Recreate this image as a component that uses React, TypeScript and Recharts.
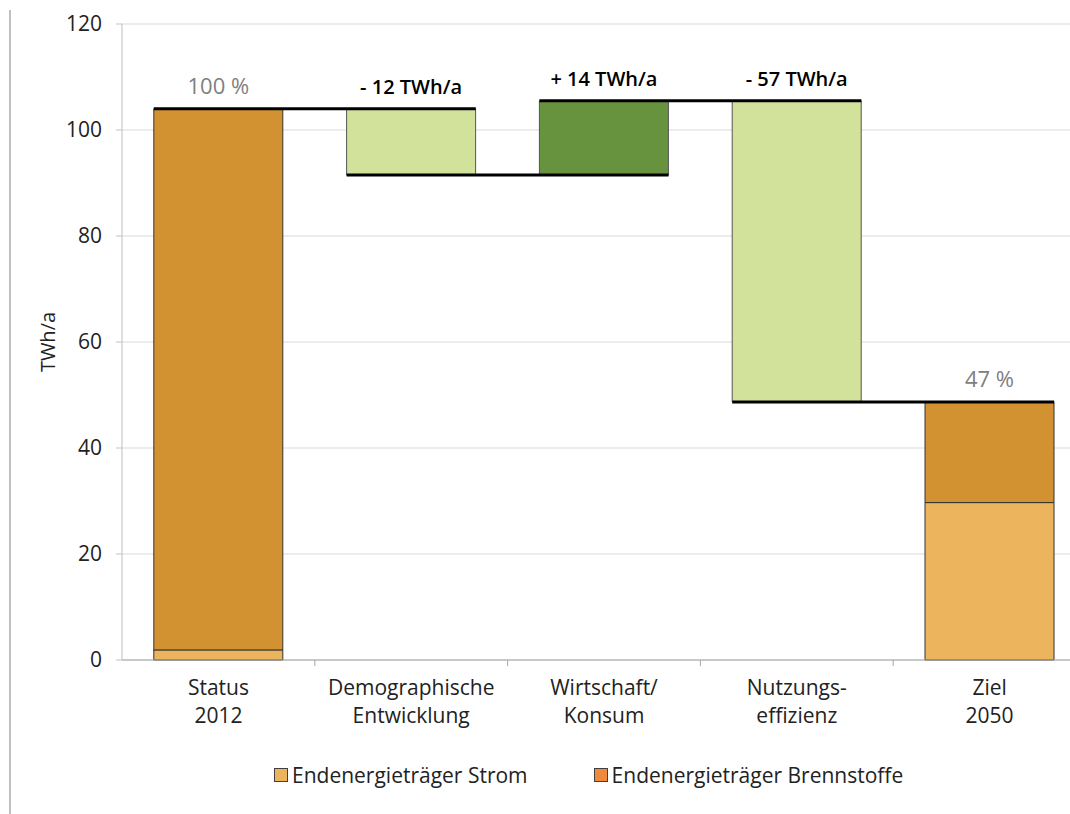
import {
  ComposedChart,
  Bar,
  XAxis,
  YAxis,
  CartesianGrid,
  ReferenceLine,
  LabelList,
  Legend,
} from 'recharts';

const kategorien = [
  'Status\n2012',
  'Demographische\nEntwicklung',
  'Wirtschaft/\nKonsum',
  'Nutzungs-\neffizienz',
  'Ziel\n2050',
];
const strom = [1.9, 0, 0, 0, 29.7];
const brennstoffe = [102.1, 0, 0, 0, 18.9];
const sockel = [0, 91.5, 91.5, 48.7, 0];
const abnahme = [0, 12.5, 0, 56.8, 0];
const zunahme = [0, 0, 14, 0, 0];
const anteilLabels = ['100 %', null, null, null, '47 %'];
const abnahmeLabels = [null, '- 12 TWh/a', null, '- 57 TWh/a', null];
const zunahmeLabels = [null, null, '+ 14 TWh/a', null, null];
const yTicks = [0, 20, 40, 60, 80, 100, 120];

const FONT = '"Open Sans", "Noto Sans", sans-serif';
const CHART_W = 1086;
const Y_AXIS_W = 122;
const GAP = 0.165;
const BAND = (CHART_W - Y_AXIS_W) / kategorien.length;
const HALB = (BAND * (1 - 2 * GAP)) / 2;

const daten = kategorien.map((name, i) => ({
  name,
  sockel: sockel[i],
  strom: strom[i],
  brennstoffe: brennstoffe[i],
  abnahme: abnahme[i],
  zunahme: zunahme[i],
  anteil: anteilLabels[i],
  minus: abnahmeLabels[i],
  plus: zunahmeLabels[i],
}));

// level where each bar ends -> connector to the next bar
const ende = kategorien.map((_, i) => sockel[i] + strom[i] + brennstoffe[i] + zunahme[i]);

function KategorieTick({ x, y, payload, index }: any) {
  const zeilen = String(payload.value).split('\n');
  const links = x - BAND / 2;
  return (
    <g>
      {index > 0 && <line x1={links} x2={links} y1={y} y2={y + 6} stroke="#a6a6a6" />}
      {index === kategorien.length - 1 && (
        <line x1={x + BAND / 2 - 1} x2={x + BAND / 2 - 1} y1={y} y2={y + 6} stroke="#a6a6a6" />
      )}
      <text x={x} y={y} textAnchor="middle" fill="#222" fontSize={21} fontFamily={FONT}>
        {zeilen.map((z, i) => (
          <tspan key={i} x={x} dy={i === 0 ? 35 : 28}>
            {z}
          </tspan>
        ))}
      </text>
    </g>
  );
}

function Verbinder(props: any) {
  const { x1, x2, y1, y2 } = props;
  if (x1 == null || y1 == null) return null;
  return <line x1={x1 - HALB} x2={x2 + HALB} y1={y1} y2={y2} stroke="#000" strokeWidth={3} />;
}

function Legende() {
  const items = [
    { name: 'Endenergieträger Strom', farbe: '#ecb45c' },
    { name: 'Endenergieträger Brennstoffe', farbe: '#ef8a3c' },
  ];
  return (
    <div
      style={{
        display: 'flex',
        alignItems: 'center',
        height: 30,
        paddingLeft: 274,
        gap: 66,
        fontFamily: FONT,
        fontSize: 21,
        color: '#222',
      }}
    >
      {items.map((it) => (
        <div key={it.name} style={{ display: 'flex', alignItems: 'center', gap: 4 }}>
          <span
            style={{
              display: 'inline-block',
              width: 12,
              height: 12,
              background: it.farbe,
              border: '1px solid #404040',
            }}
          />
          <span>{it.name}</span>
        </div>
      ))}
    </div>
  );
}

export default function App() {
  return (
    <div
      style={{
        position: 'absolute',
        left: 0,
        top: 0,
        width: 1070,
        height: 814,
        overflow: 'hidden',
        background: '#fff',
      }}
    >
      <div
        style={{
          position: 'absolute',
          left: 9,
          top: 10,
          width: 2,
          height: 804,
          background: '#c0c0c4',
        }}
      />
      <ComposedChart
        width={CHART_W}
        height={814}
        data={daten}
        margin={{ top: 24, right: 0, left: 0, bottom: 24 }}
        barCategoryGap={`${GAP * 100}%`}
      >
        <CartesianGrid vertical={false} stroke="#d9d9d9" />
        <XAxis
          dataKey="name"
          height={100}
          axisLine={{ stroke: '#a6a6a6' }}
          tickLine={false}
          tickSize={0}
          tickMargin={0}
          interval={0}
          tick={<KategorieTick />}
        />
        <YAxis
          width={Y_AXIS_W}
          domain={[0, 120]}
          ticks={yTicks}
          tickSize={6}
          tickMargin={14}
          axisLine={{ stroke: '#bfbfbf' }}
          tickLine={{ stroke: '#bfbfbf' }}
          tick={{ fill: '#222', fontSize: 21, fontFamily: FONT }}
          label={{
            value: 'TWh/a',
            angle: -90,
            position: 'center',
            dx: -13,
            fill: '#222',
            fontSize: 20,
            fontFamily: FONT,
          }}
        />
        <Legend verticalAlign="bottom" height={30} wrapperStyle={{ left: 0, width: CHART_W }} content={<Legende />} />
        <Bar dataKey="sockel" stackId="w" fill="transparent" isAnimationActive={false} legendType="none" />
        <Bar dataKey="strom" stackId="w" fill="#ecb45c" stroke="#333" strokeWidth={1} isAnimationActive={false} />
        <Bar dataKey="brennstoffe" stackId="w" fill="#d39232" stroke="#333" strokeWidth={1} isAnimationActive={false}>
          <LabelList dataKey="anteil" position="top" offset={15} fill="#808080" fontSize={22} fontFamily={FONT} />
        </Bar>
        <Bar dataKey="abnahme" stackId="w" fill="#d3e29a" stroke="#555" strokeWidth={1} isAnimationActive={false}>
          <LabelList dataKey="minus" position="top" offset={15} fill="#000" fontSize={20} fontWeight={600} fontFamily={FONT} />
        </Bar>
        <Bar dataKey="zunahme" stackId="w" fill="#67933e" stroke="#555" strokeWidth={1} isAnimationActive={false}>
          <LabelList dataKey="plus" position="top" offset={15} fill="#000" fontSize={20} fontWeight={600} fontFamily={FONT} />
        </Bar>
        {ende.slice(0, -1).map((lvl, i) => (
          <ReferenceLine
            key={i}
            segment={[
              { x: kategorien[i], y: lvl },
              { x: kategorien[i + 1], y: lvl },
            ]}
            shape={Verbinder}
          />
        ))}
      </ComposedChart>
    </div>
  );
}
